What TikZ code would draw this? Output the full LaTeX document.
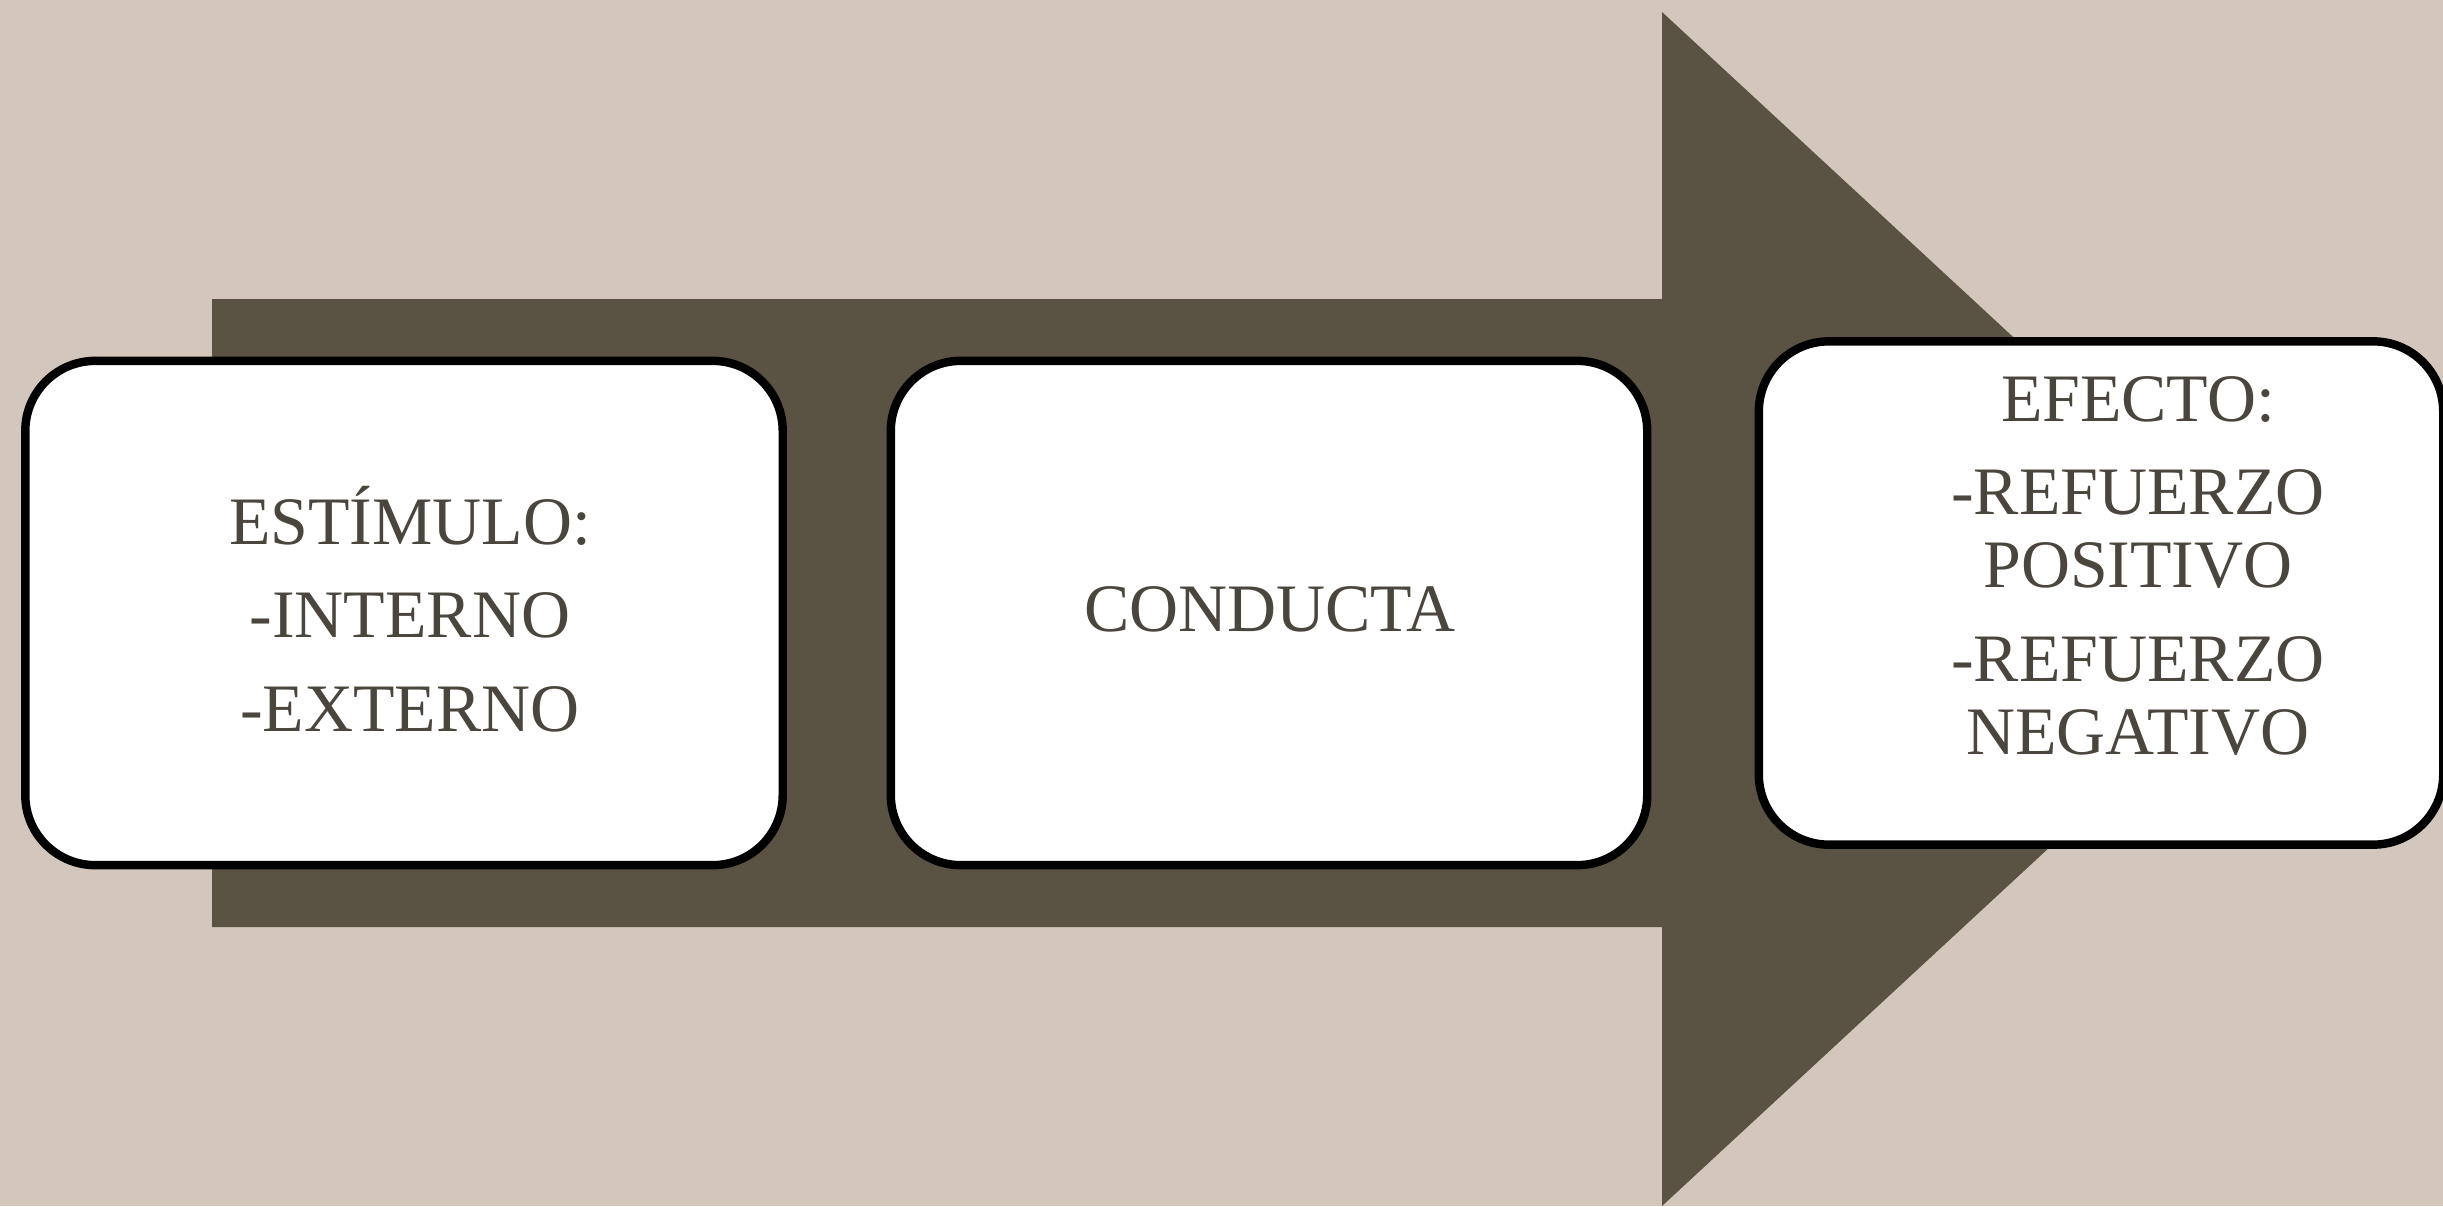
\documentclass[tikz,border=0pt]{standalone}
\usepackage{fontspec}
\setmainfont{Liberation Serif}
\definecolor{bgc}{HTML}{D3C6BC}
\definecolor{arrowc}{HTML}{5A5242}
\definecolor{txtc}{HTML}{4A463D}
\tikzset{
  card/.style={draw=black, line width=2.4pt, fill=white, rounded corners=0.7cm, inner sep=0pt},
  lbl/.style={text=txtc, align=center, font=\fontsize{19.3}{26.5}\selectfont, inner sep=0pt}
}
\begin{document}
\begin{tikzpicture}[x=0.01cm, y=-0.01cm]
\fill[bgc] (0,0) rectangle (2443,1206);
\useasboundingbox (0,0) rectangle (2443,1206);
\clip (0,0) rectangle (2443,1206);
% big arrow
\fill[arrowc] (212,299) -- (1662,299) -- (1662,12) -- (2307,609) -- (1662,1206) -- (1662,927) -- (212,927) -- cycle;
% cards
\node[card, minimum width=7.57cm, minimum height=5.04cm] (b1) at (404,613) {};
\node[card, minimum width=7.56cm, minimum height=5.04cm] (b2) at (1269,613) {};
\node[card, minimum width=6.84cm, minimum height=5.03cm] (b3) at (2101,593) {};
% texts
\node[lbl] (t1) at (410,609) {ESTÍMULO:\\-INTERNO\\-EXTERNO};
\node[lbl] (t2) at (1270,609) {CONDUCTA};
\node[lbl, font=\fontsize{19.3}{20.8}\selectfont] (t3) at (2138,566) {EFECTO:\\[5.7pt]-REFUERZO\\POSITIVO\\[5.7pt]-REFUERZO\\NEGATIVO};
\end{tikzpicture}
\end{document}
